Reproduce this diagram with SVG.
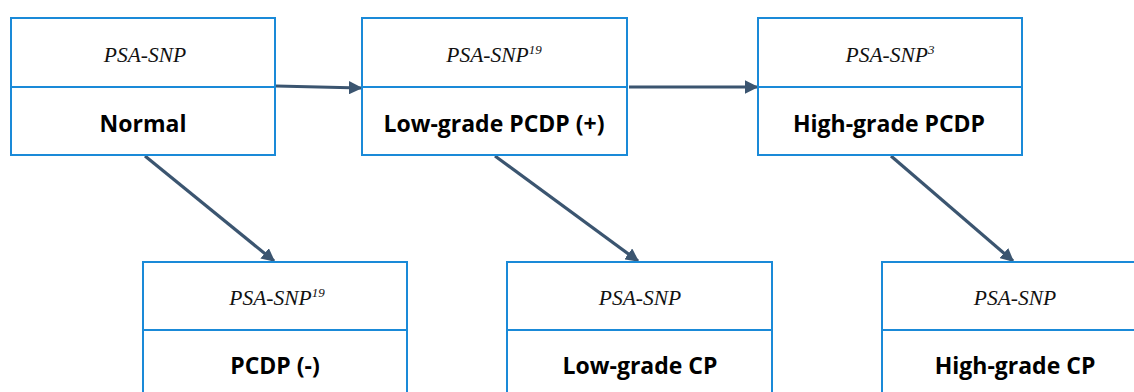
<svg xmlns="http://www.w3.org/2000/svg" width="1134" height="392" viewBox="0 0 1134 392">
<style>
.box{fill:#fff;stroke:#1a8ad8;stroke-width:2}
.div{stroke:#1a8ad8;stroke-width:2}
.it{font-family:"Liberation Serif",serif;font-style:italic;font-size:21.5px;fill:#111;text-anchor:middle}
.sup{font-size:13px}
.bd{font-family:"Open Sans","Liberation Sans",sans-serif;font-weight:bold;font-size:23px;fill:#000;text-anchor:middle}
.con{stroke:#3b5570;stroke-width:3.2;fill:none;marker-end:url(#ah)}
</style>
<defs>
<marker id="ah" viewBox="0 0 10 10" refX="9" refY="5" markerWidth="4.2" markerHeight="4.2" orient="auto" markerUnits="strokeWidth">
<path d="M0,0 L10,5 L0,10 z" fill="#3b5570"/>
</marker>
</defs>
<g id="connectors">
<path class="con" d="M276,86 L361,88"/>
<path class="con" d="M629,87 L757,87"/>
<path class="con" d="M145,156 L274,261"/>
<path class="con" d="M495,156 L638,261"/>
<path class="con" d="M891,156 L1013,261"/>
</g>
<g id="n-normal">
<rect class="box" x="11" y="18" width="264" height="137"/>
<line class="div" x1="11" y1="87" x2="275" y2="87"/>
<text class="it" x="145" y="62">PSA-SNP</text>
<text class="bd" x="143" y="132">Normal</text>
</g>
<g id="n-lowpcdp">
<rect class="box" x="362" y="18" width="265" height="137"/>
<line class="div" x1="362" y1="87" x2="627" y2="87"/>
<text class="it" x="494" y="62">PSA-SNP<tspan class="sup" dy="-8">19</tspan></text>
<text class="bd" x="494" y="132">Low-grade PCDP (+)</text>
</g>
<g id="n-highpcdp">
<rect class="box" x="758" y="18" width="264" height="137"/>
<line class="div" x1="758" y1="87" x2="1022" y2="87"/>
<text class="it" x="890" y="62">PSA-SNP<tspan class="sup" dy="-8">3</tspan></text>
<text class="bd" x="889" y="132">High-grade PCDP</text>
</g>
<g id="n-pcdpneg">
<rect class="box" x="143" y="262" width="264" height="150"/>
<line class="div" x1="143" y1="330" x2="407" y2="330"/>
<text class="it" x="277" y="305">PSA-SNP<tspan class="sup" dy="-8">19</tspan></text>
<text class="bd" x="275" y="374">PCDP (-)</text>
</g>
<g id="n-lowcp">
<rect class="box" x="507" y="262" width="265" height="150"/>
<line class="div" x1="507" y1="330" x2="772" y2="330"/>
<text class="it" x="640" y="305">PSA-SNP</text>
<text class="bd" x="640" y="374">Low-grade CP</text>
</g>
<g id="n-highcp">
<rect class="box" x="882" y="262" width="264" height="150"/>
<line class="div" x1="882" y1="330" x2="1146" y2="330"/>
<text class="it" x="1015" y="305">PSA-SNP</text>
<text class="bd" x="1015" y="374">High-grade CP</text>
</g>
</svg>
